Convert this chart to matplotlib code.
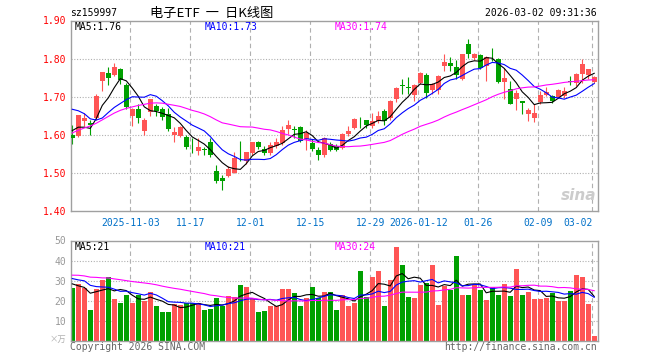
import numpy as np
import pandas as pd
import matplotlib
matplotlib.use('Agg')
import matplotlib.pyplot as plt

plt.rcParams['font.family'] = ['DejaVu Sans Mono', 'Noto Sans CJK SC']

sCode = 'sz159997'
sTitle = '电子ETF  一  日K线图'
sTime = '2026-03-02 09:31:36'

# trading days (China A-share calendar)
aHoliday = ['2026-01-01', '2026-01-02', '2026-02-16', '2026-02-17', '2026-02-18',
            '2026-02-19', '2026-02-20', '2026-02-23']
aDate = [d.strftime('%Y-%m-%d') for d in pd.bdate_range('2025-10-20', '2026-03-02')
         if d.strftime('%Y-%m-%d') not in aHoliday]

aOpen = [1.600, 1.598, 1.636, 1.630, 1.645, 1.741, 1.761, 1.757, 1.772, 1.730,
         1.649, 1.669, 1.610, 1.661, 1.675, 1.667, 1.655, 1.599, 1.598, 1.593,
         1.563, 1.558, 1.561, 1.582, 1.505, 1.487, 1.492, 1.501, 1.540, 1.530,
         1.553, 1.582, 1.562, 1.552, 1.571, 1.578, 1.614, 1.614, 1.621, 1.588,
         1.579, 1.561, 1.546, 1.575, 1.570, 1.566, 1.601, 1.618, 1.637, 1.639,
         1.623, 1.636, 1.662, 1.645, 1.693, 1.731, 1.725, 1.704, 1.737, 1.756,
         1.717, 1.717, 1.781, 1.789, 1.779, 1.746, 1.838, 1.801, 1.810, 1.781,
         1.805, 1.798, 1.739, 1.721, 1.695, 1.690, 1.654, 1.645, 1.686, 1.704,
         1.702, 1.700, 1.702, 1.740, 1.735, 1.759, 1.756, 1.739]
aHigh = [1.625, 1.653, 1.657, 1.639, 1.707, 1.766, 1.778, 1.788, 1.776, 1.737,
         1.671, 1.680, 1.645, 1.695, 1.680, 1.673, 1.671, 1.620, 1.623, 1.600,
         1.591, 1.591, 1.569, 1.591, 1.521, 1.495, 1.517, 1.556, 1.585, 1.556,
         1.582, 1.585, 1.571, 1.580, 1.591, 1.624, 1.639, 1.623, 1.623, 1.612,
         1.588, 1.568, 1.595, 1.581, 1.575, 1.604, 1.623, 1.645, 1.647, 1.640,
         1.658, 1.662, 1.667, 1.692, 1.725, 1.746, 1.752, 1.734, 1.766, 1.763,
         1.736, 1.756, 1.813, 1.804, 1.796, 1.813, 1.851, 1.815, 1.813, 1.806,
         1.829, 1.802, 1.776, 1.741, 1.718, 1.690, 1.671, 1.680, 1.715, 1.726,
         1.704, 1.721, 1.726, 1.754, 1.761, 1.800, 1.774, 1.754]
aLow = [1.576, 1.594, 1.623, 1.599, 1.640, 1.715, 1.732, 1.754, 1.734, 1.667,
        1.623, 1.630, 1.599, 1.649, 1.649, 1.638, 1.610, 1.580, 1.594, 1.562,
        1.552, 1.547, 1.547, 1.541, 1.473, 1.454, 1.490, 1.499, 1.530, 1.524,
        1.547, 1.562, 1.547, 1.547, 1.565, 1.574, 1.601, 1.592, 1.581, 1.561,
        1.557, 1.533, 1.542, 1.557, 1.557, 1.563, 1.598, 1.614, 1.618, 1.618,
        1.618, 1.630, 1.625, 1.640, 1.687, 1.706, 1.706, 1.690, 1.734, 1.697,
        1.706, 1.706, 1.768, 1.768, 1.746, 1.743, 1.801, 1.796, 1.772, 1.741,
        1.794, 1.737, 1.693, 1.680, 1.664, 1.654, 1.636, 1.633, 1.680, 1.702,
        1.684, 1.697, 1.697, 1.732, 1.728, 1.735, 1.747, 1.737]
aClose = [1.592, 1.651, 1.643, 1.625, 1.703, 1.764, 1.750, 1.777, 1.743, 1.674,
          1.669, 1.643, 1.638, 1.693, 1.662, 1.646, 1.614, 1.608, 1.620, 1.568,
          1.562, 1.568, 1.560, 1.547, 1.479, 1.480, 1.510, 1.539, 1.538, 1.554,
          1.582, 1.568, 1.553, 1.574, 1.580, 1.613, 1.627, 1.612, 1.583, 1.605,
          1.563, 1.546, 1.592, 1.561, 1.561, 1.601, 1.610, 1.642, 1.635, 1.627,
          1.636, 1.649, 1.636, 1.690, 1.722, 1.729, 1.723, 1.732, 1.761, 1.711,
          1.734, 1.754, 1.792, 1.781, 1.757, 1.811, 1.811, 1.811, 1.776, 1.804,
          1.803, 1.739, 1.750, 1.682, 1.709, 1.684, 1.665, 1.656, 1.704, 1.712,
          1.689, 1.718, 1.715, 1.738, 1.759, 1.785, 1.772, 1.753]
# volume, unit 10k
aVolume = [26.4, 28.4, 26.4, 15.4, 25.7, 30.4, 31.9, 20.9, 18.9, 22.9,
           18.9, 22.7, 19.9, 24.4, 17.4, 14.4, 14.4, 18.4, 17.9, 18.9,
           18.9, 18.9, 15.4, 15.9, 21.4, 17.4, 22.4, 22.0, 27.9, 26.9,
           21.4, 14.4, 14.9, 17.4, 17.4, 25.9, 25.9, 23.9, 17.4, 21.4,
           26.9, 21.4, 24.4, 24.4, 15.4, 22.9, 17.4, 18.9, 34.9, 21.9,
           31.9, 34.9, 17.4, 30.4, 46.9, 37.9, 21.9, 21.4, 27.9, 28.9,
           37.9, 17.9, 27.4, 25.4, 42.4, 22.9, 22.9, 27.9, 25.4, 20.4,
           26.7, 22.9, 28.4, 22.4, 35.9, 22.9, 24.4, 20.9, 20.9, 21.4,
           23.9, 19.9, 19.9, 24.9, 32.9, 31.9, 18.4, 2.4]

# sessions before the window, only feed the moving averages
aClose_prior = [1.44, 1.47, 1.46, 1.49, 1.50, 1.48, 1.51, 1.53, 1.52, 1.55,
                1.53, 1.55, 1.60, 1.64, 1.67, 1.70, 1.69, 1.71, 1.72, 1.719,
                1.690, 1.720, 1.760, 1.735, 1.710, 1.606, 1.643, 1.641, 1.573]
aVolume_prior = [30, 36, 34, 29, 38, 33, 35, 31, 37, 32, 34, 30, 36, 33, 35, 32, 34, 31, 36, 35,
                 35, 31, 38, 32, 32.3, 33.2, 30.4, 29.9, 21.9]

aTick_date = ['2025-11-03', '2025-11-17', '2025-12-01', '2025-12-15', '2025-12-29',
              '2026-01-12', '2026-01-26', '2026-02-09', '2026-03-02']
aTick_label = ['2025-11-03', '11-17', '12-01', '12-15', '12-29',
               '2026-01-12', '01-26', '02-09', '03-02']
aPeriod = [5, 10, 30]
aMa_color = ['#000000', '#0000ff', '#ff00ff']
aMa_price_label = ['MA5:1.76', 'MA10:1.73', 'MA30:1.74']
aMa_volume_label = ['MA5:21', 'MA10:21', 'MA30:24']

sRed = '#ff5555'
sGreen = '#00a000'
sGrid = '#b0b0b0'
sFrame = '#a0a0a0'

W, H = 660, 360
def fx(px):
    return px / W
def fy(py):
    return 1 - py / H

nDay = len(aClose)
x = np.arange(nDay)
aO = np.array(aOpen); aC = np.array(aClose)
aColor = [sRed if aC[i] >= aO[i] else sGreen for i in range(nDay)]

def moving_average(aPrior, aValue, n):
    a = np.concatenate([aPrior, aValue])
    s = pd.Series(a).rolling(n).mean().to_numpy()
    return s[len(aPrior):]

aTick_x = [aDate.index(d) - 0.32 for d in aTick_date]

fig = plt.figure(figsize=(6.6, 3.6), dpi=100)
ax = fig.add_axes([fx(70.5), fy(211), fx(597.5) - fx(70.5), fy(20.5) - fy(211)])
ax_v = fig.add_axes([fx(70.5), fy(340.7), fx(597.5) - fx(70.5), fy(240.5) - fy(340.7)])

for a in (ax, ax_v):
    a.set_xlim(-0.3, 87.55)
    for s in a.spines.values():
        s.set_color(sFrame)
        s.set_linewidth(1.0)
    for xt in aTick_x:
        a.axvline(xt, color=sGrid, lw=0.8, ls=(0, (4, 3)), zorder=0)

# price panel
ax.set_ylim(1.40, 1.90)
for yv in [1.50, 1.60, 1.70, 1.80]:
    ax.axhline(yv, color=sGrid, lw=0.8, ls=(0, (1, 1.5)), zorder=0)
ax.vlines(x, aLow, aHigh, colors=aColor, lw=0.8, zorder=2)
aBody = np.maximum(np.abs(aC - aO), 0.0018)
ax.bar(x, aBody, bottom=np.minimum(aO, aC), width=0.8, color=aColor, lw=0, zorder=3)
for n, col in zip(aPeriod, aMa_color):
    ax.plot(x, moving_average(aClose_prior, aClose, n), color=col, lw=0.8, zorder=4)

ax.set_yticks([1.40, 1.50, 1.60, 1.70, 1.80, 1.90])
ax.set_yticklabels(['%.2f' % v for v in [1.40, 1.50, 1.60, 1.70, 1.80, 1.90]])
ax.tick_params(axis='y', length=0, pad=3, labelcolor='#ff0000', labelsize=7)
ax.set_xticks(aTick_x)
ax.set_xticklabels(aTick_label)
ax.tick_params(axis='x', length=0, pad=5, labelcolor='#0070c8', labelsize=7)
ax.get_xticklabels()[-1].set_horizontalalignment('right')

# volume panel
ax_v.set_ylim(0, 50)
for yv in [10, 20, 30, 40]:
    ax_v.axhline(yv, color=sGrid, lw=0.8, ls=(0, (1, 1.5)), zorder=0)
ax_v.bar(x, aVolume, width=0.8, color=aColor, lw=0, zorder=2)
for n, col in zip(aPeriod, aMa_color):
    ax_v.plot(x, moving_average(aVolume_prior, aVolume, n), color=col, lw=0.8, zorder=4)
ax_v.set_yticks([10, 20, 30, 40, 50])
ax_v.tick_params(axis='y', length=0, pad=3, labelcolor='#999999', labelsize=7)
ax_v.set_xticks([])

# header and legends
fig.text(fx(70), fy(13), sCode, fontsize=7, va='center', ha='left', color='#000000')
fig.text(fx(150), fy(13), sTitle, fontsize=9.5, va='center', ha='left', color='#000000',
         family=['Noto Sans CJK SC', 'DejaVu Sans'])
fig.text(fx(597), fy(13), sTime, fontsize=7, va='center', ha='right', color='#000000')
for xp, s, col in zip([75, 205, 335], aMa_price_label, aMa_color):
    fig.text(fx(xp), fy(27), s, fontsize=7, va='center', ha='left', color=col)
for xp, s, col in zip([75, 205, 335], aMa_volume_label, aMa_color):
    fig.text(fx(xp), fy(246.5), s, fontsize=7, va='center', ha='left', color=col)
fig.text(fx(66), fy(339), '×万', fontsize=6, va='center', ha='right', color='#b0b0b0',
         family=['Noto Sans CJK SC', 'DejaVu Sans'])
fig.text(fx(70), fy(347), 'Copyright 2026 SINA.COM', fontsize=7, va='center', ha='left', color='#666666')
fig.text(fx(597), fy(347), 'http://finance.sina.com.cn', fontsize=7, va='center', ha='right', color='#666666')
fig.text(fx(596), fy(195), 'sina', fontsize=11, va='center', ha='right', color='#cccccc',
         style='italic', weight='bold', family='DejaVu Sans')

plt.savefig('out.png', dpi=100)
